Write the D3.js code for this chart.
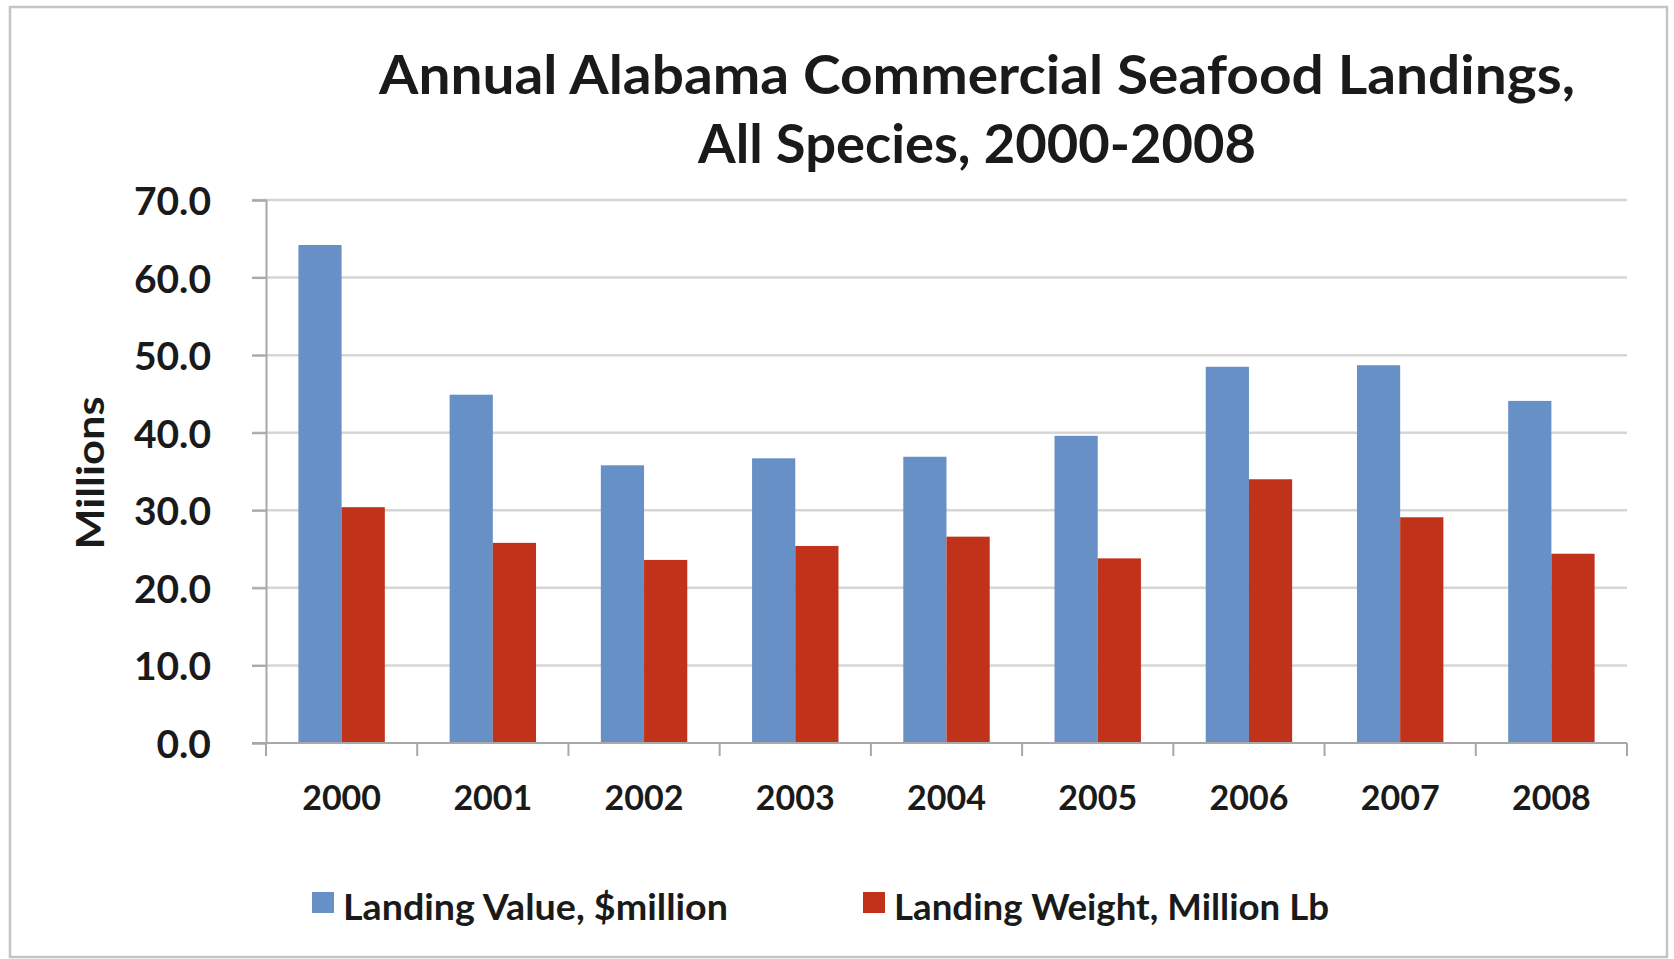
<!DOCTYPE html>
<html>
<head>
<meta charset="utf-8">
<script src="https://cdn.jsdelivr.net/npm/d3@7/dist/d3.min.js"></script>
<style>
  html, body { margin: 0; padding: 0; background: #fff; }
  svg text { font-family: Lato, "Open Sans", sans-serif; font-weight: bold; fill: #1a1a1a; }
</style>
</head>
<body>
<svg id="chart"></svg>
<script>
// data
var years = ["2000", "2001", "2002", "2003", "2004", "2005", "2006", "2007", "2008"];
var landingValue  = [64.2, 44.9, 35.8, 36.7, 36.9, 39.6, 48.5, 48.7, 44.1];
var landingWeight = [30.4, 25.8, 23.6, 25.4, 26.6, 23.8, 34.0, 29.1, 24.4];
var yTicks = [0, 10, 20, 30, 40, 50, 60, 70];
var seriesNames = ["Landing Value, $million", "Landing Weight, Million Lb"];
var titleLines = ["Annual Alabama Commercial Seafood Landings,", "All Species, 2000-2008"];
var yTitle = "Millions";

var colors = ["#6790c6", "#c0321a"];

var width = 1674, height = 959;
var plot = { left: 266, right: 1627, top: 200, bottom: 743 };

var svg = d3.select("#chart")
    .attr("width", width)
    .attr("height", height);

// outer frame
svg.append("rect")
    .attr("x", 10).attr("y", 7)
    .attr("width", 1657).attr("height", 950)
    .attr("fill", "#fff")
    .attr("stroke", "#c4c4c4")
    .attr("stroke-width", 2.5);

var x = d3.scaleBand()
    .domain(years)
    .range([plot.left, plot.right])
    .paddingInner(0)
    .paddingOuter(0);

var xSeries = d3.scaleBand()
    .domain([0, 1])
    .range([0, x.bandwidth()])
    .paddingInner(0)
    .paddingOuter(0.75);

var y = d3.scaleLinear()
    .domain([0, 70])
    .range([plot.bottom, plot.top]);

// gridlines
svg.append("g")
    .selectAll("line")
    .data(yTicks.slice(1))
    .enter().append("line")
    .attr("x1", plot.left - 14)
    .attr("x2", plot.right)
    .attr("y1", function (d) { return y(d); })
    .attr("y2", function (d) { return y(d); })
    .attr("stroke", "#d6d6d6")
    .attr("stroke-width", 2.5);

// bars
var rows = years.map(function (yr, i) {
    return { year: yr, values: [landingValue[i], landingWeight[i]] };
});

var groups = svg.append("g")
    .selectAll("g")
    .data(rows)
    .enter().append("g")
    .attr("transform", function (d) { return "translate(" + x(d.year) + ",0)"; });

groups.selectAll("rect")
    .data(function (d) { return d.values.map(function (v, k) { return { k: k, v: v }; }); })
    .enter().append("rect")
    .attr("x", function (d) { return xSeries(d.k); })
    .attr("width", xSeries.bandwidth())
    .attr("y", function (d) { return y(d.v); })
    .attr("height", function (d) { return y(0) - y(d.v); })
    .attr("fill", function (d) { return colors[d.k]; });

// y axis
var yAxis = d3.axisLeft(y)
    .tickValues(yTicks)
    .tickSize(14)
    .tickPadding(0)
    .tickFormat(d3.format(".1f"));

var yAxisG = svg.append("g")
    .attr("transform", "translate(" + plot.left + ",0)")
    .call(yAxis);
yAxisG.select(".domain").attr("stroke", "#a8a8a8").attr("stroke-width", 2);
yAxisG.selectAll(".tick line").attr("stroke", "#a8a8a8").attr("stroke-width", 2);
yAxisG.selectAll(".tick text")
    .attr("x", 211 - plot.left)
    .attr("dy", "0.37em")
    .style("font-size", "39px")
    .style("fill", "#1a1a1a");

// x axis
var xAxisG = svg.append("g")
    .attr("transform", "translate(0," + plot.bottom + ")");
xAxisG.append("line")
    .attr("x1", plot.left - 14).attr("x2", plot.right)
    .attr("stroke", "#a8a8a8").attr("stroke-width", 2);
xAxisG.selectAll("line.tk")
    .data(years.concat(["end"]))
    .enter().append("line")
    .attr("class", "tk")
    .attr("x1", function (d, i) { return i < years.length ? x(d) : plot.right; })
    .attr("x2", function (d, i) { return i < years.length ? x(d) : plot.right; })
    .attr("y1", 0).attr("y2", 13)
    .attr("stroke", "#a8a8a8").attr("stroke-width", 2);
xAxisG.selectAll("text")
    .data(years)
    .enter().append("text")
    .attr("x", function (d) { return x(d) + x.bandwidth() / 2; })
    .attr("y", 810 - plot.bottom)
    .attr("text-anchor", "middle")
    .style("font-size", "34px")
    .text(function (d) { return d; });

// y axis title
svg.append("text")
    .attr("transform", "translate(104,473) rotate(-90)")
    .attr("text-anchor", "middle")
    .attr("textLength", 153)
    .attr("lengthAdjust", "spacingAndGlyphs")
    .style("font-size", "38px")
    .text(yTitle);

// title
var titleLen = [1196, 558];
var titleY = [94, 163];
svg.selectAll("text.title")
    .data(titleLines)
    .enter().append("text")
    .attr("class", "title")
    .attr("x", 977)
    .attr("y", function (d, i) { return titleY[i]; })
    .attr("text-anchor", "middle")
    .attr("textLength", function (d, i) { return titleLen[i]; })
    .attr("lengthAdjust", "spacingAndGlyphs")
    .style("font-size", "54px")
    .text(function (d) { return d; });

// legend
var legX = [312, 863];
var legLen = [385, 435];
var leg = svg.selectAll("g.leg")
    .data(seriesNames)
    .enter().append("g")
    .attr("class", "leg")
    .attr("transform", function (d, i) { return "translate(" + legX[i] + ",892)"; });
leg.append("rect")
    .attr("width", 22).attr("height", 21)
    .attr("fill", function (d, i) { return colors[i]; });
leg.append("text")
    .attr("x", 31)
    .attr("y", 28)
    .attr("textLength", function (d, i) { return legLen[i]; })
    .attr("lengthAdjust", "spacingAndGlyphs")
    .style("font-size", "37px")
    .text(function (d) { return d; });
</script>
</body>
</html>
